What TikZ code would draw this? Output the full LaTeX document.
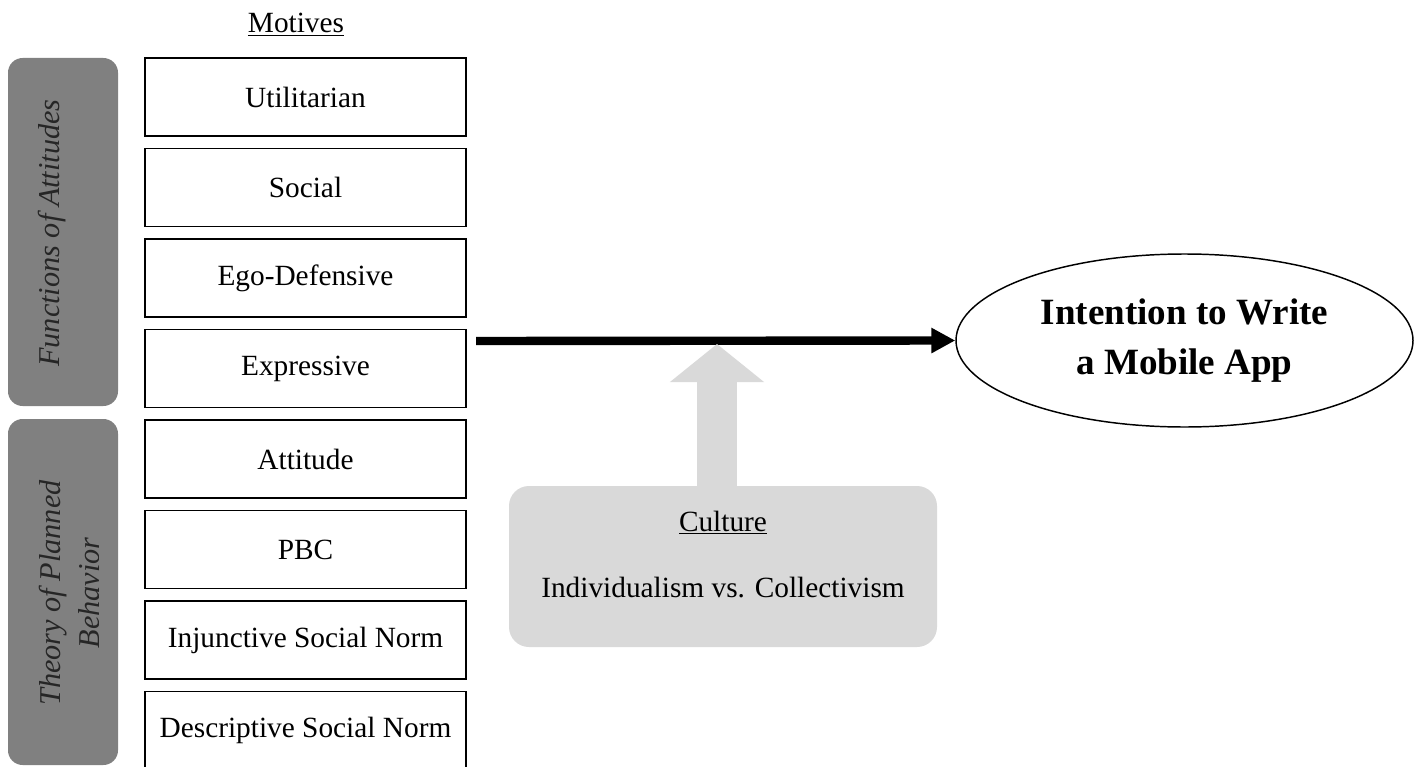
\documentclass[tikz,border=0pt]{standalone}
\usepackage{fontspec}
\setmainfont{Liberation Serif}
\usetikzlibrary{arrows.meta,shapes.geometric}
\definecolor{bargray}{HTML}{808080}
\definecolor{bartext}{HTML}{262626}
\definecolor{lightgray}{HTML}{D9D9D9}
\tikzset{
  motive/.style={draw=black, line width=1.1pt, minimum width=240.75pt, minimum height=58.5pt,
    inner sep=0pt, font=\fontsize{22}{26}\selectfont},
  sidebar/.style={fill=bargray, rounded corners=11pt},
  sidetext/.style={rotate=90, anchor=base, text=bartext, font=\fontsize{22.7}{27}\selectfont\itshape, inner sep=0pt},
  plain/.style={font=\fontsize{22}{26}\selectfont, inner sep=0pt, anchor=base},
  outcome/.style={draw=black, line width=1.1pt, ellipse, minimum width=342.75pt, minimum height=129.75pt,
    inner sep=0pt, align=center, font=\fontsize{27.8}{38}\selectfont\bfseries},
  culturebox/.style={fill=lightgray, rounded corners=15pt, minimum width=321pt, minimum height=120.75pt, inner sep=0pt},
  mainarrow/.style={line width=6.3pt, -{Triangle[width=18pt,length=18pt]}},
  fatarrow/.style={draw=lightgray, line width=30pt, -{Triangle[width=69pt,length=28.5pt]}}
}
\begin{document}
\begin{tikzpicture}[x=0.75pt,y=-0.75pt]
\useasboundingbox (0,0) rectangle (1421,767);
\fill[white] (0,0) rectangle (1421,767);

% side bars
\fill[sidebar] (8,58) rectangle (118,406);
\fill[sidebar] (8,419) rectangle (118,765);
\node[sidetext] (foa) at (59,233) {Functions of Attitudes};
\begin{scope}
  \clip (8,419) rectangle (98.5,767);
  \node[sidetext] (tpb1) at (60,593) {Theory of Planned};
  \node[sidetext] (tpb2) at (99,593) {Behavior};
\end{scope}

% motives header
\node[plain] (motives) at (296,33) {\underline{Motives}};

% motive boxes
\node[motive] (m1) at (305.5,97) {Utilitarian};
\node[motive] (m2) at (305.5,187.5) {Social};
\node[motive] (m3) at (305.5,278) {Ego-Defensive};
\node[motive] (m4) at (305.5,368.5) {Expressive};
\node[motive] (m5) at (305.5,459) {Attitude};
\node[motive] (m6) at (305.5,549.5) {PBC};
\node[motive] (m7) at (305.5,640) {Injunctive Social Norm};
\node[motive] (m8) at (305.5,730.5) {Descriptive Social Norm};

% outcome ellipse
\node[outcome] (intent) at (1184.5,340.5) {Intention to Write\\a Mobile App};

% culture box
\node[culturebox] (culture) at (723,566.5) {};
\node[plain] (cultitle) at (723,531) {\underline{Culture}};
\node[plain] (culdim) at (723,597) {Individualism vs. Collectivism};

% main arrow
\coordinate (start) at (476,341);
\draw[mainarrow] (start) -- (intent.west);

% moderation arrow
\coordinate (modbase) at (717,487);
\coordinate (modtip) at (717,344);
\draw[fatarrow] (modbase) -- (modtip);
\end{tikzpicture}
\end{document}
